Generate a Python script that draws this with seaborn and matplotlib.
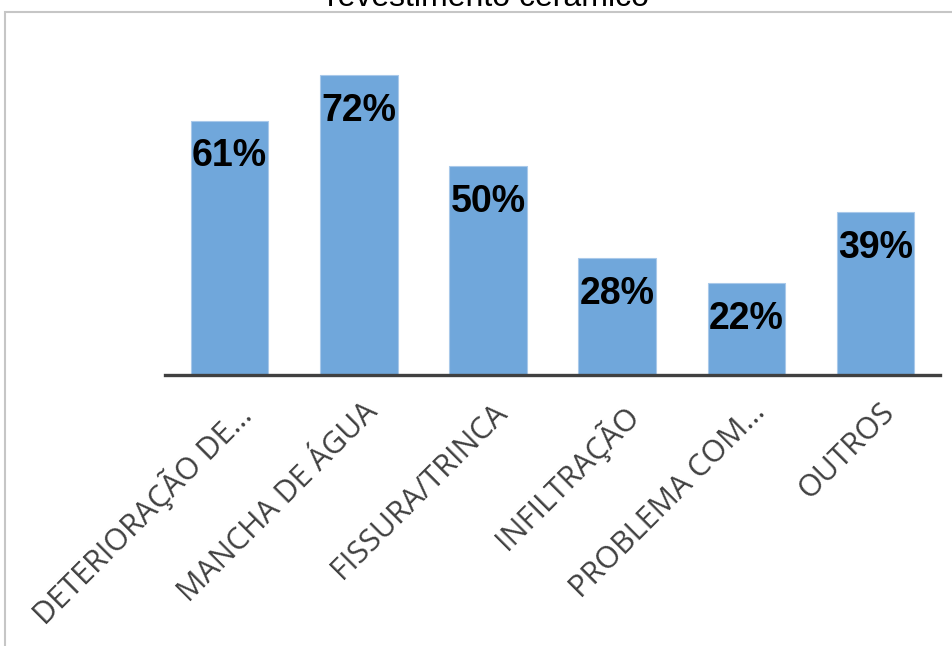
import matplotlib
matplotlib.use("Agg")
import matplotlib.pyplot as plt
import seaborn as sns
import pandas as pd
from matplotlib.patches import Rectangle
from matplotlib.transforms import ScaledTranslation

categories = ["DETERIORAÇÃO DE…", "MANCHA DE ÁGUA", "FISSURA/TRINCA",
              "INFILTRAÇÃO", "PROBLEMA COM…", "OUTROS"]
values = [61, 72, 50, 28, 22, 39]
value_labels = ["61%", "72%", "50%", "28%", "22%", "39%"]
title = "revestimento cerâmico"

sns.set_theme(style="white")
plt.rcParams['font.family'] = ['Open Sans', 'DejaVu Sans']

W, H = 952, 646
fig = plt.figure(figsize=(W / 100, H / 100), dpi=100)
ax = fig.add_axes([165 / W, 1 - 375 / H, (940 - 165) / W, 333.6 / H])

df = pd.DataFrame({"cat": categories, "val": values})
sns.barplot(data=df, x="cat", y="val", color="#70a7db", saturation=1,
            width=0.6, ax=ax, edgecolor="#a9c9ea", linewidth=0.8)
ax.set_ylim(0, 80)
ax.set_xlim(-0.5, 5.5)
ax.set_xlabel("")
ax.set_ylabel("")
ax.set_yticks([])
for s in ["top", "right", "left"]:
    ax.spines[s].set_visible(False)
ax.spines["bottom"].set_color("#404040")
ax.spines["bottom"].set_linewidth(2.4)
ax.tick_params(axis="x", length=0, pad=16)
ax.set_xticks(range(len(categories)))
ax.set_xticklabels(categories, rotation=45, ha="right", rotation_mode="anchor",
                   fontsize=22, color="#404040")
shift = ScaledTranslation(4 / 100, 0, fig.dpi_scale_trans)
for t in ax.get_xticklabels():
    t.set_transform(t.get_transform() + shift)
ax.set_facecolor("none")

for i, (v, lab) in enumerate(zip(values, value_labels)):
    ax.annotate(lab, (i, v), xytext=(0, -33), textcoords="offset points",
                ha="center", va="baseline", fontsize=27, fontweight="bold",
                color="black", family=["Liberation Sans", "DejaVu Sans"])

fig.patches.append(Rectangle((5 / W, -0.1), 1.2, 1 - 12 / H + 0.1,
                             transform=fig.transFigure, fill=False,
                             edgecolor="#c6c6c6", linewidth=1.5))
fig.text(488 / W, 1 - 6 / H, title, ha="center", va="baseline", fontsize=23,
         color="black", family=["Liberation Sans", "DejaVu Sans"])

fig.savefig("out.png", dpi=100)
